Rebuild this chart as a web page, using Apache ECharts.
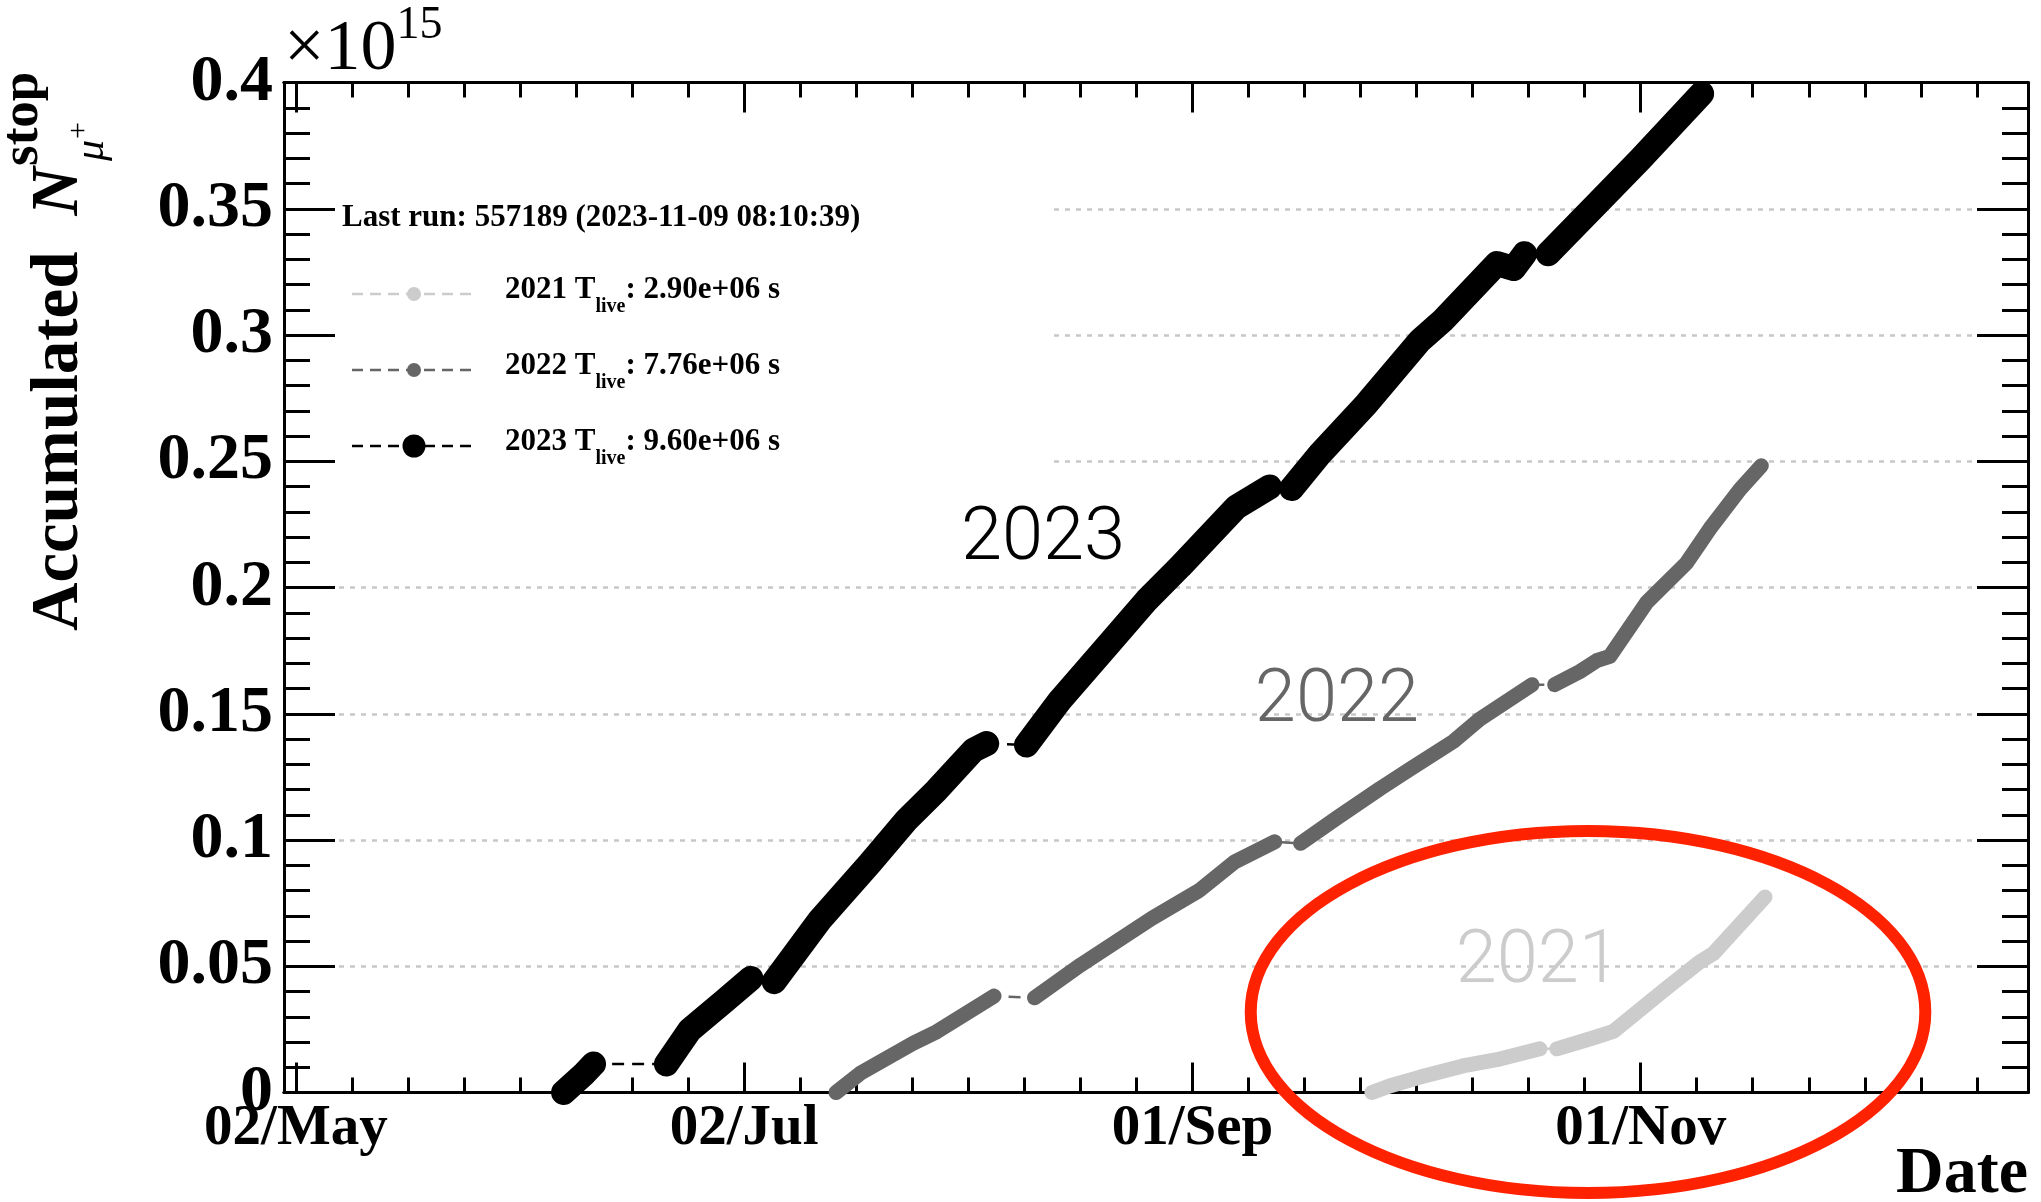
<!DOCTYPE html>
<html>
<head>
<meta charset="utf-8">
<title>Accumulated stopped muons</title>
<script src="https://cdn.jsdelivr.net/npm/echarts@6/dist/echarts.min.js"></script>
<style>
  html, body { margin: 0; padding: 0; background: #ffffff; }
  #chart { width: 2041px; height: 1202px; }
</style>
</head>
<body>
<div id="chart"></div>
<script>
// ---------------------------------------------------------------------------
// Data: accumulated number of stopped mu+ (in units of 1e15) per beam season.
// Each inner list is one uninterrupted stretch of data taking; points are
// ['MM-DD HH', value]. All seasons are overlaid on a common calendar.
// ---------------------------------------------------------------------------
const SEASONS = ['2021', '2022', '2023'];
const LIVE_TIME_S = [2.90e6, 7.76e6, 9.60e6];
const LAST_RUN = 557189;
const LAST_RUN_TIME = '2023-11-09 08:10:39';

const RUNS_2021 = [
  [['09-25 10', 0.0000], ['09-27 22', 0.0027], ['10-02 00', 0.0061], ['10-07 19', 0.0105],
   ['10-12 10', 0.0130], ['10-18 07', 0.0173]],
  [['10-20 14', 0.0173], ['10-25 12', 0.0216], ['10-28 07', 0.0242], ['11-04 12', 0.0413],
   ['11-09 00', 0.0516], ['11-10 22', 0.0551], ['11-17 22', 0.0774]]
];

const RUNS_2022 = [
  [['07-14 12', 0.0000], ['07-17 19', 0.0076], ['07-25 00', 0.0195], ['07-28 05', 0.0241],
   ['08-05 00', 0.0382]],
  [['08-10 12', 0.0375], ['08-16 19', 0.0505], ['08-26 12', 0.0690], ['09-01 22', 0.0800],
   ['09-06 19', 0.0914], ['09-12 05', 0.0993]],
  [['09-15 17', 0.0987], ['09-20 19', 0.1090], ['09-26 12', 0.1203], ['09-30 14', 0.1280],
   ['10-06 12', 0.1390], ['10-10 02', 0.1478], ['10-17 05', 0.1615]],
  [['10-20 07', 0.1615], ['10-23 17', 0.1667], ['10-26 00', 0.1710], ['10-27 19', 0.1727],
   ['11-01 19', 0.1940], ['11-07 05', 0.2096], ['11-10 10', 0.2233], ['11-14 12', 0.2388],
   ['11-17 10', 0.2482]]
];

const RUNS_2023 = [
  [['06-07 10', 0.0000], ['06-10 02', 0.0070], ['06-11 12', 0.0113]],
  [['06-21 10', 0.0113], ['06-24 14', 0.0247], ['06-29 05', 0.0360], ['07-02 22', 0.0452]],
  [['07-06 02', 0.0439], ['07-12 07', 0.0683], ['07-19 02', 0.0907], ['07-24 02', 0.1079],
   ['07-28 05', 0.1198], ['08-02 05', 0.1356], ['08-04 00', 0.1382]],
  [['08-09 10', 0.1376], ['08-14 00', 0.1554], ['08-20 07', 0.1765], ['08-25 19', 0.1950],
   ['08-30 07', 0.2082], ['09-07 00', 0.2319], ['09-11 12', 0.2398]],
  [['09-14 12', 0.2392], ['09-18 10', 0.2531], ['09-24 17', 0.2728], ['10-02 00', 0.2979],
   ['10-05 02', 0.3058], ['10-12 10', 0.3283], ['10-14 17', 0.3263], ['10-16 05', 0.3322]],
  [['10-19 10', 0.3322], ['10-27 10', 0.3560], ['10-31 22', 0.3695], ['11-09 07', 0.3956]]
];

const SEASON_RUNS = [RUNS_2021, RUNS_2022, RUNS_2023];

// Axis ticks and labels
const X_TICK_DATES = ['05-02', '07-02', '09-01', '11-01'];
const X_TICK_LABELS = ['02/May', '02/Jul', '01/Sep', '01/Nov'];
const X_MINOR_PER_MAJOR = 8;
const X_RANGE = ['04-30 09', '12-23 17'];
const Y_TICK_LABELS = ['0', '0.05', '0.1', '0.15', '0.2', '0.25', '0.3', '0.35', '0.4'];

// Season label text anchors: [season, 'MM-DD HH', value]
const SEASON_TAGS = [['2023', '08-11 16', 0.2185], ['2022', '09-20 16', 0.1545], ['2021', '10-18 00', 0.0510]];

// Highlight ellipse around the 2021 season: centre date/value and half-axes (days, value)
const HIGHLIGHT = { centre: ['10-24 20', 0.0319], halfDays: 45.9, halfValue: 0.0717 };

// ---------------------------------------------------------------------------
// Styling
// ---------------------------------------------------------------------------
const SERIF = '"Liberation Serif", "Times New Roman", Times, serif';
const SANS = 'Roboto, "Open Sans", "Liberation Sans", sans-serif';
const SEASON_COLOR = { '2021': '#cccccc', '2022': '#666666', '2023': '#000000' };
const SEASON_WIDTH = { '2021': 15, '2022': 15, '2023': 25 };
const GRID = { left: 284, top: 82.5, width: 1744, height: 1010 };

// ---------------------------------------------------------------------------
// Calendar helpers (non-leap common year, day 0 = 1 Jan)
// ---------------------------------------------------------------------------
const MONTH_START = [0, 31, 59, 90, 120, 151, 181, 212, 243, 273, 304, 334];
function dayOfYear(s) {
  const parts = s.split(' ');
  const md = parts[0].split('-').map(Number);
  const hours = parts.length > 1 ? Number(parts[1]) : 0;
  return MONTH_START[md[0] - 1] + md[1] - 1 + hours / 24;
}
const X_MIN = dayOfYear(X_RANGE[0]);
const X_MAX = dayOfYear(X_RANGE[1]);
const MAJOR_DAYS = X_TICK_DATES.map(dayOfYear);
const MINOR_STEP = (MAJOR_DAYS[1] - MAJOR_DAYS[0]) / X_MINOR_PER_MAJOR;
const MINOR_DAYS = [];
for (let d = MAJOR_DAYS[0]; d <= X_MAX + 1e-9; d += MINOR_STEP) MINOR_DAYS.push(+d.toFixed(4));

function dayLabel(v) {
  const i = MAJOR_DAYS.findIndex(d => Math.abs(d - v) < 1e-3);
  return i >= 0 ? X_TICK_LABELS[i] : '';
}
function valueLabel(v) {
  const i = Math.round(v / 0.05);
  return Math.abs(i * 0.05 - v) < 1e-6 && Y_TICK_LABELS[i] !== undefined ? Y_TICK_LABELS[i] : '';
}
function sci(v) {
  // 2.90e+06 style
  return v.toExponential(2).replace(/e([+-])(\d)$/, 'e$10$2');
}

// ---------------------------------------------------------------------------
// Series
// ---------------------------------------------------------------------------
const series = [];
SEASONS.forEach((season, i) => {
  const runs = SEASON_RUNS[i];
  const color = SEASON_COLOR[season];
  const joined = [];
  const broken = [];
  runs.forEach((run, r) => {
    if (r > 0) broken.push([null, null]);
    run.forEach(p => {
      const pt = [dayOfYear(p[0]), p[1]];
      joined.push(pt);
      broken.push(pt);
    });
  });
  // thin dashed connection between all points (visible across the gaps)
  series.push({
    type: 'line', name: season + ' link', xAxisIndex: 0, yAxisIndex: 0,
    data: joined, symbol: 'none', showSymbol: false, clip: false, silent: true,
    lineStyle: { color: color, width: 2.5, type: [12, 8] }, z: 2
  });
  // densely packed markers of each data-taking stretch
  series.push({
    type: 'line', name: season, xAxisIndex: 0, yAxisIndex: 0,
    data: broken, connectNulls: false, symbol: 'none', showSymbol: false, clip: false, silent: true,
    lineStyle: { color: color, width: SEASON_WIDTH[season], cap: 'round', join: 'round' }, z: 3
  });
});

// ---------------------------------------------------------------------------
// Axes
// ---------------------------------------------------------------------------
const BLACK_LINE = { color: '#000000', width: 3 };
function xAxisDef(gridIndex, position, ticks, len, withLabels) {
  return {
    type: 'value', gridIndex: gridIndex, position: position, min: X_MIN, max: X_MAX,
    axisLine: { show: true, onZero: false, lineStyle: BLACK_LINE },
    axisTick: { show: true, inside: true, length: len, customValues: ticks, lineStyle: BLACK_LINE },
    axisLabel: withLabels ? {
      show: true, customValues: MAJOR_DAYS, formatter: dayLabel, margin: 8,
      color: '#000000', fontFamily: SERIF, fontWeight: 'bold', fontSize: 57
    } : { show: false },
    splitLine: { show: false }, minorTick: { show: false }, minorSplitLine: { show: false }
  };
}
function yAxisDef(position, withLabels) {
  return {
    type: 'value', gridIndex: 0, position: position, min: 0, max: 0.4, interval: 0.05,
    axisLine: { show: true, onZero: false, lineStyle: BLACK_LINE },
    axisTick: { show: true, inside: true, length: 51, lineStyle: BLACK_LINE },
    minorTick: { show: true, splitNumber: 5, length: 26, lineStyle: BLACK_LINE },
    axisLabel: withLabels ? {
      show: true, formatter: valueLabel, margin: 11, color: '#000000',
      fontFamily: SERIF, fontWeight: 'bold', fontSize: 66
    } : { show: false },
    splitLine: withLabels ? {
      show: true, showMinLine: false, showMaxLine: false,
      lineStyle: { color: '#c8c8c8', width: 2.5, type: [5, 6] }
    } : { show: false }
  };
}

// ---------------------------------------------------------------------------
// Legend block, titles and exponent
// ---------------------------------------------------------------------------
const measureCtx = document.createElement('canvas').getContext('2d');
function textWidth(str, font) { measureCtx.font = font; return measureCtx.measureText(str).width; }

const graphics = [];
graphics.push({
  type: 'rect', id: 'legend-box', z: 1, silent: true,
  shape: { x: 337, y: 150, width: 711, height: 340 }, style: { fill: '#ffffff' }
});
graphics.push({
  type: 'text', id: 'legend-header', z: 10, silent: true, x: 342, y: 218,
  style: {
    text: 'Last run: ' + LAST_RUN + ' (' + LAST_RUN_TIME + ')', fill: '#000000',
    fontFamily: SERIF, fontWeight: 'bold', fontSize: 31,
    align: 'left', verticalAlign: 'middle', textAlign: 'left', textVerticalAlign: 'middle'
  }
});
SEASONS.forEach((season, i) => {
  const rowY = 290 + i * 76;
  const color = SEASON_COLOR[season];
  graphics.push({
    type: 'line', id: 'legend-line-' + season, z: 10, silent: true,
    shape: { x1: 352, y1: rowY + 4, x2: 472, y2: rowY + 4 },
    style: { stroke: color, lineWidth: 2.5, lineDash: [11, 7] }
  });
  graphics.push({
    type: 'circle', id: 'legend-dot-' + season, z: 11, silent: true,
    shape: { cx: 414, cy: rowY + 4, r: season === '2023' ? 11.5 : 7 },
    style: { fill: color }
  });
  graphics.push({
    type: 'text', id: 'legend-text-' + season, z: 10, silent: true, x: 505, y: rowY,
    style: {
      text: '{m|' + season + ' T}{s|live}{m|: ' + sci(LIVE_TIME_S[i]) + ' s}',
      align: 'left', verticalAlign: 'middle', textAlign: 'left', textVerticalAlign: 'middle',
      rich: {
        m: { fontFamily: SERIF, fontWeight: 'bold', fontSize: 31, lineHeight: 31, fill: '#000', color: '#000', verticalAlign: 'middle' },
        s: { fontFamily: SERIF, fontWeight: 'bold', fontSize: 20, lineHeight: 20, fill: '#000', color: '#000', verticalAlign: 'middle', padding: [33, 0, 0, 0] }
      }
    }
  });
});

// exponent of the value axis
(function () {
  const baseSize = 72;
  const wBase = textWidth('\u00d710', baseSize + 'px ' + SERIF);
  graphics.push({
    type: 'text', id: 'exp-base', z: 10, silent: true, x: 284, y: 74 - 0.3375 * baseSize,
    style: { text: '\u00d710', fill: '#000', fontFamily: SERIF, fontSize: baseSize,
      align: 'left', verticalAlign: 'middle', textAlign: 'left', textVerticalAlign: 'middle' }
  });
  graphics.push({
    type: 'text', id: 'exp-power', z: 10, silent: true, x: 284 + wBase, y: 26,
    style: { text: '15', fill: '#000', fontFamily: SERIF, fontSize: 46,
      align: 'left', verticalAlign: 'middle', textAlign: 'left', textVerticalAlign: 'middle' }
  });
})();

// date axis title
graphics.push({
  type: 'text', id: 'x-title', z: 10, silent: true, x: 2028, y: 1175,
  style: { text: 'Date', fill: '#000', fontFamily: SERIF, fontWeight: 'bold', fontSize: 66,
    align: 'right', verticalAlign: 'middle', textAlign: 'right', textVerticalAlign: 'middle' }
});

// value axis title: Accumulated N^stop_{mu+}
(function () {
  const fMain = 'bold 67px ' + SERIF;
  const fSym = 'italic bold 67px ' + SERIF;
  const fSub = 'italic 42px ' + SERIF;
  const wMain = textWidth('Accumulated', fMain);
  const xN = wMain + 36;
  const wN = textWidth('N', fSym);
  const xScript = xN + wN + 1;
  const xMu = xN + wN + 6;
  const wMu = textWidth('\u03bc', fSub);
  const t = (id, str, x, y, size, weight, style) => ({
    type: 'text', id: id, x: x, y: y, silent: true,
    style: { text: str, fill: '#000', fontFamily: SERIF, fontSize: size, fontWeight: weight, fontStyle: style,
      align: 'left', verticalAlign: 'middle', textAlign: 'left', textVerticalAlign: 'middle' }
  });
  graphics.push({
    type: 'group', id: 'y-title', x: 60, y: 631, rotation: Math.PI / 2, z: 10, silent: true,
    children: [
      t('yt-main', 'Accumulated', 0, 0, 67, 'bold', 'normal'),
      t('yt-n', 'N', xN, 0, 67, 'bold', 'italic'),
      t('yt-sup', 'stop', xScript, -37, 53, 'bold', 'normal'),
      t('yt-sub', '\u03bc', xMu, 32, 42, 'normal', 'italic'),
      t('yt-subsup', '+', xMu + wMu + 1, 19, 30, 'normal', 'normal')
    ]
  });
})();

// ---------------------------------------------------------------------------
// Chart
// ---------------------------------------------------------------------------
const chart = echarts.init(document.getElementById('chart'), null, { renderer: 'canvas', width: 2041, height: 1202 });

const option = {
  animation: false,
  backgroundColor: '#ffffff',
  tooltip: { show: false },
  grid: [
    Object.assign({ containLabel: false, outerBoundsMode: 'none', show: false }, GRID),
    Object.assign({ containLabel: false, outerBoundsMode: 'none', show: false }, GRID)
  ],
  xAxis: [
    xAxisDef(0, 'bottom', MAJOR_DAYS, 30, true),
    xAxisDef(0, 'top', MAJOR_DAYS, 30, false),
    xAxisDef(1, 'bottom', MINOR_DAYS, 15, false),
    xAxisDef(1, 'top', MINOR_DAYS, 15, false)
  ],
  yAxis: [
    yAxisDef('left', true),
    yAxisDef('right', false),
    { type: 'value', gridIndex: 1, min: 0, max: 1, show: false }
  ],
  series: series,
  graphic: graphics
};
chart.setOption(option);

// Elements anchored to data coordinates: season tags and the highlight ellipse
const toPx = (d, v) => chart.convertToPixel({ seriesIndex: 0 }, [d, v]);
const anchored = [];
SEASON_TAGS.forEach(tag => {
  const p = toPx(dayOfYear(tag[1]), tag[2]);
  anchored.push({
    type: 'text', id: 'tag-' + tag[0], z: 12, silent: true, x: p[0], y: p[1],
    style: { text: tag[0], fill: SEASON_COLOR[tag[0]], fontFamily: SANS, fontWeight: 300, fontSize: 74,
      align: 'center', verticalAlign: 'middle', textAlign: 'center', textVerticalAlign: 'middle' }
  });
});
(function () {
  const cd = dayOfYear(HIGHLIGHT.centre[0]);
  const cv = HIGHLIGHT.centre[1];
  const c = toPx(cd, cv);
  const ex = toPx(cd + HIGHLIGHT.halfDays, cv);
  const ey = toPx(cd, cv + HIGHLIGHT.halfValue);
  anchored.push({
    type: 'ellipse', id: 'highlight', z: 100, silent: true,
    shape: { cx: c[0], cy: c[1], rx: Math.abs(ex[0] - c[0]), ry: Math.abs(c[1] - ey[1]) },
    style: { fill: 'none', stroke: '#ff2200', lineWidth: 12 }
  });
})();
chart.setOption({ graphic: anchored });
</script>
</body>
</html>
